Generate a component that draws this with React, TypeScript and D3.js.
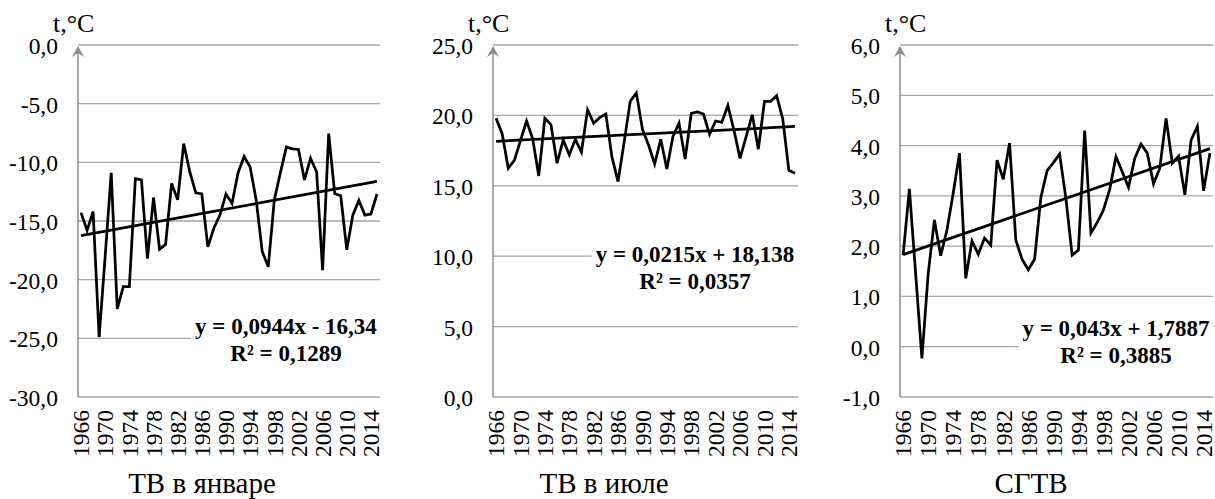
import React, { useRef, useEffect } from "react";
import * as d3 from "d3";

// years on the category axis
const years = [
    1966, 1967, 1968, 1969, 1970, 1971, 1972, 1973, 1974, 1975,
    1976, 1977, 1978, 1979, 1980, 1981, 1982, 1983, 1984, 1985,
    1986, 1987, 1988, 1989, 1990, 1991, 1992, 1993, 1994, 1995,
    1996, 1997, 1998, 1999, 2000, 2001, 2002, 2003, 2004, 2005,
    2006, 2007, 2008, 2009, 2010, 2011, 2012, 2013, 2014, 2015,
];

// January mean temperature
const janTemps = [
    -14.3, -15.8, -14.2, -24.9, -18.0, -10.9, -22.5, -20.6, -20.6, -11.4,
    -11.5, -18.2, -13.0, -17.4, -17.0, -11.8, -13.2, -8.4, -10.8, -12.6,
    -12.7, -17.2, -15.6, -14.5, -12.7, -13.5, -10.9, -9.5, -10.4, -13.2,
    -17.6, -18.9, -13.2, -10.9, -8.7, -8.85, -8.9, -11.5, -9.65, -10.8,
    -19.2, -7.55, -12.65, -12.85, -17.45, -14.5, -13.25, -14.5, -14.4, -12.7,
];

// July mean temperature
const julTemps = [
    19.8, 18.7, 16.25, 16.8, 18.2, 19.6, 18.35, 15.7, 19.8, 19.35,
    16.6, 18.25, 17.2, 18.3, 17.4, 20.4, 19.45, 19.85, 20.1, 17.05,
    15.3, 18.1, 21.0, 21.6, 19.0, 17.9, 16.55, 18.3, 16.2, 18.5,
    19.45, 16.9, 20.15, 20.25, 20.1, 18.65, 19.6, 19.5, 20.7, 18.95,
    16.95, 18.5, 20.05, 17.6, 21.0, 21.0, 21.4, 19.75, 16.1, 15.9,
];

// annual mean temperature
const annualTemps = [
    1.82, 3.14, 1.45, -0.23, 1.45, 2.52, 1.81, 2.32, 3.05, 3.85,
    1.36, 2.1, 1.84, 2.16, 2.02, 3.71, 3.33, 4.05, 2.12, 1.74,
    1.53, 1.74, 2.97, 3.5, 3.66, 3.83, 2.95, 1.82, 1.92, 4.3,
    2.26, 2.47, 2.72, 3.13, 3.78, 3.48, 3.17, 3.75, 4.03, 3.85,
    3.24, 3.55, 4.54, 3.65, 3.79, 3.02, 4.11, 4.38, 3.1, 3.85,
];

const panelTitles = ["ТВ в январе", "ТВ в июле", "СГТВ"];
const trendSlopes = [0.0944, 0.0215, 0.043];
const trendIntercepts = [-16.34, 18.138, 1.7887];
const equationLabels = ["y = 0,0944x - 16,34", "y = 0,0215x + 18,138", "y = 0,043x + 1,7887"];
const r2Labels = ["R² = 0,1289", "R² = 0,0357", "R² = 0,3885"];
const yDomains = [[-30, 0], [0, 25], [-1, 6]];
const yTickSteps = [5, 5, 1];
const unitLabel = "t,°C";

const series = [janTemps, julTemps, annualTemps];

// layout of each panel in the picture
const layout = [
    { left: 78, right: 380, titleX: 202, unitDx: -25, eqX: 286, eqY: 334 },
    { left: 493, right: 798, titleX: 604, unitDx: -25, eqX: 695, eqY: 262 },
    { left: 900, right: 1213, titleX: 1031, unitDx: -15, eqX: 1116, eqY: 336 },
];

const WIDTH = 1215;
const HEIGHT = 499;
const TOP = 45;
const BOTTOM = 397;
const FONT = "'Liberation Serif', 'Times New Roman', serif";

const ru = d3.formatLocale({
    decimal: ",",
    thousands: " ",
    grouping: [3],
    currency: ["", ""],
    minus: "-",
});
const fmt = ru.format(".1f");

const App = () => {
    const svgRef = useRef();

    useEffect(() => {
        const svg = d3.select(svgRef.current);
        svg.selectAll("*").remove();

        svg.attr("width", WIDTH).attr("height", HEIGHT).style("font-family", FONT);

        layout.forEach((p, k) => {
            const values = series[k];
            const g = svg.append("g");

            const xScale = d3
                .scalePoint()
                .domain(years)
                .range([p.left, p.right])
                .padding(0.5);

            const yScale = d3
                .scaleLinear()
                .domain(yDomains[k])
                .range([BOTTOM, TOP]);

            const ticks = d3.range(yDomains[k][0], yDomains[k][1] + 1e-9, yTickSteps[k]);

            // gridlines
            g.selectAll(".grid")
                .data(ticks)
                .enter()
                .append("line")
                .attr("x1", p.left)
                .attr("x2", p.right)
                .attr("y1", d => yScale(d))
                .attr("y2", d => yScale(d))
                .attr("stroke", "#a6a6a6")
                .attr("stroke-width", 1.3);

            // y tick labels
            g.selectAll(".ytick")
                .data(ticks)
                .enter()
                .append("text")
                .attr("x", p.left - 20)
                .attr("y", d => yScale(d) + 9)
                .attr("text-anchor", "end")
                .attr("font-size", 23.5)
                .attr("fill", "#000")
                .text(d => fmt(d));

            // y axis with arrow
            g.append("line")
                .attr("x1", p.left)
                .attr("x2", p.left)
                .attr("y1", TOP + 6)
                .attr("y2", BOTTOM)
                .attr("stroke", "#8c8c8c")
                .attr("stroke-width", 1.5);
            g.append("path")
                .attr("d", `M${p.left},${TOP + 1} L${p.left - 6},${TOP + 12} L${p.left},${TOP + 8} L${p.left + 6},${TOP + 12} Z`)
                .attr("fill", "#8c8c8c");

            // unit label
            g.append("text")
                .attr("x", p.left + p.unitDx)
                .attr("y", 32)
                .attr("font-size", 26)
                .text(unitLabel);

            // x tick labels, every 4th year
            g.selectAll(".xtick")
                .data(years.filter((d, i) => i % 4 === 0))
                .enter()
                .append("text")
                .attr("transform", d => `translate(${xScale(d)}, 410) rotate(-90)`)
                .attr("text-anchor", "end")
                .attr("dy", "0.35em")
                .attr("font-size", 23.5)
                .text(d => d);

            // data line
            const line = d3
                .line()
                .x((d, i) => xScale(years[i]))
                .y(d => yScale(d));
            g.append("path")
                .datum(values)
                .attr("d", line)
                .attr("fill", "none")
                .attr("stroke", "#000")
                .attr("stroke-width", 2.75)
                .attr("stroke-linejoin", "miter");

            // linear trend
            const trendPts = [1, years.length].map(n => [
                xScale(years[n - 1]),
                yScale(trendSlopes[k] * n + trendIntercepts[k]),
            ]);
            g.append("path")
                .attr("d", d3.line()(trendPts))
                .attr("fill", "none")
                .attr("stroke", "#000")
                .attr("stroke-width", 2.75);

            // equation label with white box
            const box = g.append("rect").attr("fill", "#fff");
            const eq = g.append("g")
                .attr("font-size", 23)
                .attr("font-weight", "bold")
                .attr("text-anchor", "middle");
            eq.append("text").attr("x", p.eqX).attr("y", p.eqY).text(equationLabels[k]);
            eq.append("text").attr("x", p.eqX).attr("y", p.eqY + 27).text(r2Labels[k]);
            const bb = eq.node().getBBox();
            box.attr("x", bb.x - 4)
                .attr("y", bb.y)
                .attr("width", bb.width + 8)
                .attr("height", bb.height);

            // panel title
            g.append("text")
                .attr("x", p.titleX)
                .attr("y", 493)
                .attr("text-anchor", "middle")
                .attr("font-size", 29)
                .text(panelTitles[k]);
        });
    }, []);

    return (
        <svg
            ref={svgRef}
            style={{ position: "absolute", left: 0, top: 0, background: "#fff" }}
        ></svg>
    );
};

export default App;
